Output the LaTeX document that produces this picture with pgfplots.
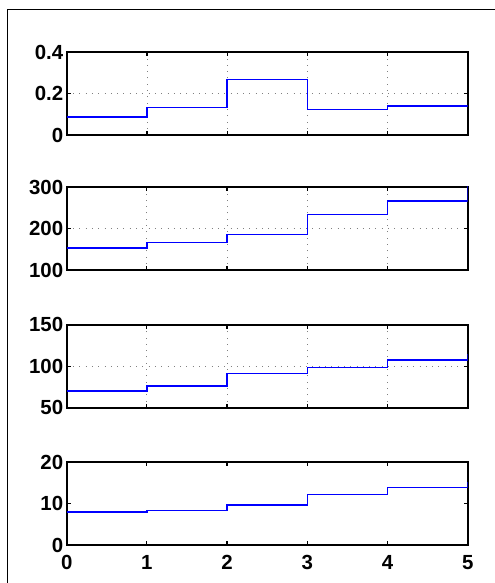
\documentclass[border=0pt]{standalone}
\usepackage{pgfplots}
\pgfplotsset{compat=1.18}
\usepackage{fontspec}
\setmainfont{Liberation Sans}
\pgfplotsset{
  sub/.style={
    scale only axis, width=401bp, height=83bp,
    xmin=0, xmax=5, xtick={0,1,2,3,4,5},
    tick align=inside, major tick length=4bp,
    xtick pos=both, ytick pos=both,
    axis line style={line width=1.8bp},
    every tick/.style={black, line width=1.2bp},
    tick label style={font=\fontsize{20.5}{20.5}\selectfont\bfseries},
    /pgf/number format/assume math mode=true,
    anchor=south west,
    grid style={gray, line width=0.8bp, dash pattern=on 0.8bp off 5.5bp},
    xticklabels={},
  },
  stairline/.style={const plot, color={rgb,1:red,0;green,0;blue,1}, line width=1.5bp, mark=none},
}
\begin{document}
\begin{tikzpicture}
\draw[line width=1bp] (7bp,573bp) -- (7bp,-30bp);
\draw[line width=1bp] (7bp,573bp) -- (560bp,573bp);

\begin{axis}[sub, at={(66.7bp,448bp)}, ymin=0, ymax=0.4, ytick={0,0.2,0.4},
  yticklabels={0,0.2,0.4}, grid=major]
\addplot[stairline] coordinates {(0,0.086) (1,0.133) (2,0.268) (3,0.123) (4,0.139) (5,0.139)};
\end{axis}

\begin{axis}[sub, at={(66.7bp,313bp)}, ymin=100, ymax=300, ytick={100,200,300}, grid=major]
\addplot[stairline] coordinates {(0,153) (1,166) (2,185) (3,234) (4,266) (5,305)};
\end{axis}

\begin{axis}[sub, at={(66.7bp,175.3bp)}, ymin=50, ymax=150, ytick={50,100,150}, grid=major]
\addplot[stairline] coordinates {(0,70) (1,76) (2,91.5) (3,98.4) (4,107.3) (5,114.5)};
\end{axis}

\begin{axis}[sub, at={(66.7bp,38bp)}, ymin=0, ymax=20, ytick={0,10,20},
  xticklabels={0,1,2,3,4,5}, xticklabel style={yshift=-7bp}]
\addplot[stairline] coordinates {(0,7.9) (1,8.3) (2,9.6) (3,12.2) (4,13.8) (5,15.2)};
\end{axis}

\pgfresetboundingbox
\useasboundingbox (0bp,0bp) rectangle (495bp,583bp);
\end{tikzpicture}
\end{document}
